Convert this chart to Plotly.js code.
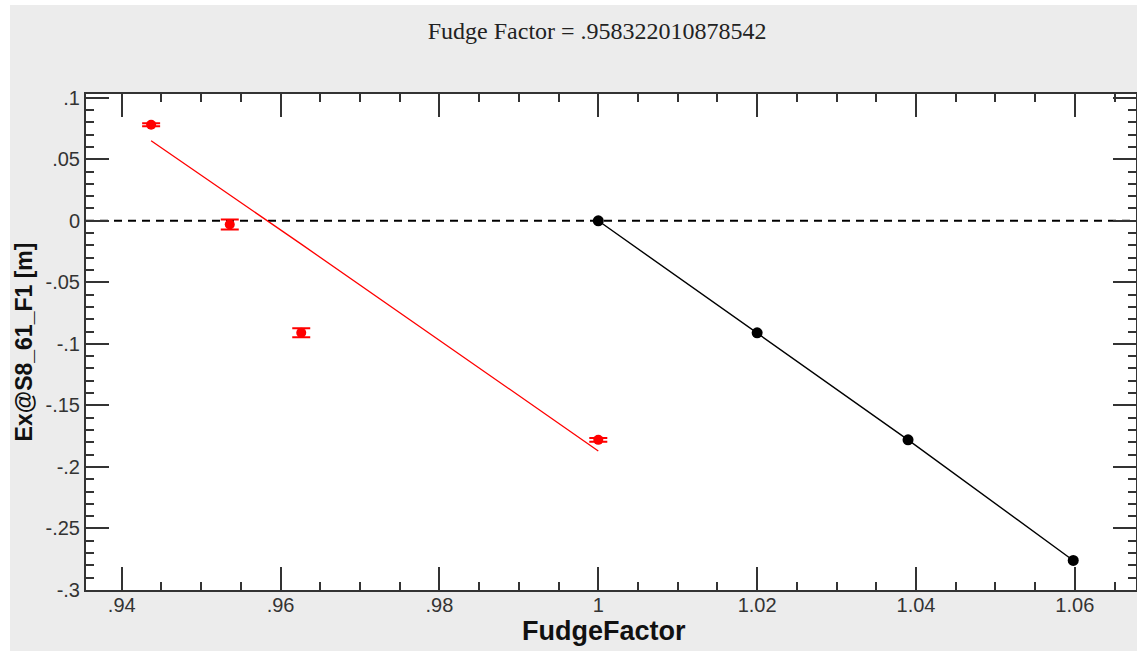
<!DOCTYPE html>
<html>
<head>
<meta charset="utf-8">
<script src="https://cdn.plot.ly/plotly-3.0.1.min.js"></script>
<style>
  html, body { margin: 0; padding: 0; background: #ffffff; }
  #chart { position: absolute; left: 10px; top: 5px; width: 1127px; height: 646px; }
</style>
</head>
<body>
<div id="chart"></div>
<script>
// Measured data (red points with error bars)
const redX = [0.9437, 0.9536, 0.9626, 1.0];
const redY = [0.078, -0.003, -0.091, -0.178];
const redErr = [0.0012, 0.004, 0.0037, 0.0015];

// Red fit line
const fitX = [0.9437, 0.9536, 0.9583, 0.9626, 1.0];
const fitY = [0.065, 0.021, 0.0, -0.019, -0.187];

// Black series
const blackX = [1.0, 1.02, 1.039, 1.0598];
const blackY = [0.0, -0.091, -0.178, -0.276];

// Reference line value
const refY = 0;

// Tick labels
const xTickVals = [0.94, 0.96, 0.98, 1, 1.02, 1.04, 1.06];
const xTickText = ['.94', '.96', '.98', '1', '1.02', '1.04', '1.06'];
const yTickVals = [0.1, 0.05, 0, -0.05, -0.1, -0.15, -0.2, -0.25, -0.3];
const yTickText = ['.1', '.05', '0', '-.05', '-.1', '-.15', '-.2', '-.25', '-.3'];

const titleText = 'Fudge Factor = .958322010878542';
const xTitle = 'FudgeFactor';
const yTitle = 'Ex@S8_61_F1 [m]';

const axisColor = '#333333';

const traces = [
  {
    x: fitX, y: fitY, type: 'scatter', mode: 'lines',
    line: { color: '#ff0000', width: 1.3 },
    hoverinfo: 'skip', showlegend: false
  },
  {
    x: redX, y: redY, type: 'scatter', mode: 'markers',
    marker: { color: '#ff0000', size: 10 },
    error_y: { type: 'data', array: redErr, visible: true, color: '#ff0000', thickness: 2, width: 9 },
    showlegend: false
  },
  {
    x: blackX, y: blackY, type: 'scatter', mode: 'lines+markers',
    line: { color: '#000000', width: 1.4 },
    marker: { color: '#000000', size: 11 },
    showlegend: false
  }
];

const layout = {
  width: 1127, height: 646,
  paper_bgcolor: '#ececec',
  plot_bgcolor: '#ffffff',
  margin: { l: 76, r: 1, t: 89, b: 61, pad: 0 },
  showlegend: false,
  title: {
    text: titleText,
    font: { family: 'Liberation Serif', size: 24, color: '#222222' },
    x: 0.521, xref: 'container', xanchor: 'center',
    y: 0.961, yref: 'container', yanchor: 'middle'
  },
  xaxis: {
    range: [0.9355, 1.0677],
    tickmode: 'array', tickvals: xTickVals, ticktext: xTickText,
    ticks: 'inside', ticklen: 23, tickwidth: 2, tickcolor: axisColor,
    ticklabelstandoff: -4,
    minor: { tickmode: 'linear', tick0: 0.94, dtick: 0.005, ticks: 'inside', ticklen: 8, tickwidth: 2, tickcolor: axisColor, showgrid: false },
    showline: true, linecolor: axisColor, linewidth: 2, mirror: 'ticks',
    showgrid: false, zeroline: false,
    tickfont: { family: 'Liberation Sans', size: 20, color: '#333333' }
  },
  yaxis: {
    range: [-0.3, 0.103],
    tickmode: 'array', tickvals: yTickVals, ticktext: yTickText,
    ticks: 'inside', ticklen: 23, tickwidth: 2, tickcolor: axisColor,
    minor: { tickmode: 'linear', tick0: 0, dtick: 0.01, ticks: 'inside', ticklen: 8, tickwidth: 2, tickcolor: axisColor, showgrid: false },
    showline: true, linecolor: axisColor, linewidth: 2, mirror: 'ticks',
    showgrid: false, zeroline: false,
    tickfont: { family: 'Liberation Sans', size: 20, color: '#333333' },
    title: { text: yTitle, font: { family: 'Liberation Sans', size: 23, color: '#111111', weight: 'bold' }, standoff: 6 }
  },
  annotations: [
    {
      text: xTitle, xref: 'paper', yref: 'paper', x: 0.4933, y: -0.082,
      xanchor: 'center', yanchor: 'middle', showarrow: false,
      font: { family: 'Liberation Sans', size: 27, color: '#111111', weight: 'bold' }
    }
  ],
  shapes: [
    {
      type: 'line', xref: 'paper', x0: 0, x1: 1, yref: 'y', y0: refY, y1: refY,
      line: { color: '#000000', width: 2, dash: '8px,6px' }, layer: 'below'
    }
  ]
};

Plotly.newPlot('chart', traces, layout, { staticPlot: true, displayModeBar: false });
</script>
</body>
</html>
